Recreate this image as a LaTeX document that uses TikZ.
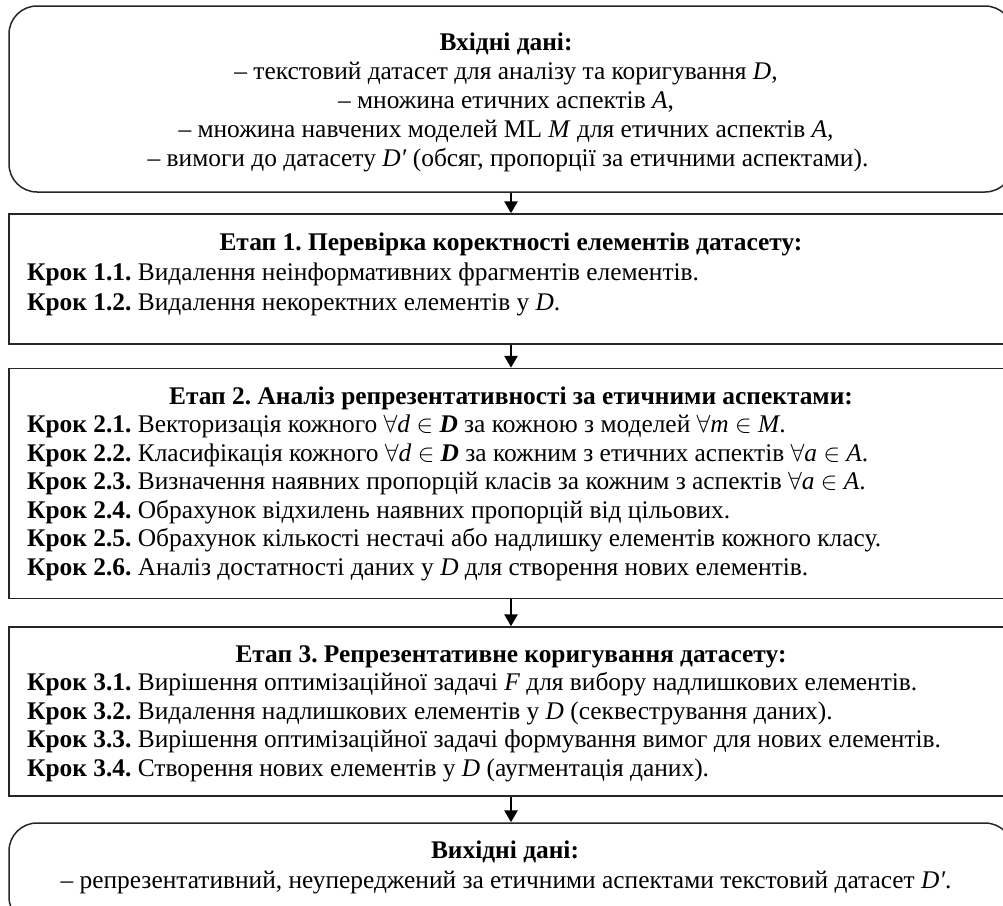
\documentclass[tikz,border=0pt]{standalone}
\usepackage{fontspec}
\setmainfont{Liberation Serif}
\usetikzlibrary{arrows.meta}
\frenchspacing
\tikzset{
  frame/.style={draw=black!85, line width=1.5pt, minimum width=1004pt, inner sep=0pt},
  roundframe/.style={frame, rounded corners=28pt},
  arr/.style={line width=2.8pt, -{Triangle[width=13pt,length=12pt]}},
  ctext/.style={anchor=base, inner sep=0pt, font=\fontsize{25.4}{29}\selectfont},
  ltext/.style={anchor=base west, inner sep=0pt, font=\fontsize{25.4}{29}\selectfont},
}
\newcommand{\kr}[1]{\textbf{Крок #1.}}
\begin{document}
\begin{tikzpicture}[x=1pt,y=-1pt]
\useasboundingbox (0,0) rectangle (1003,905);
\fill[white] (0,0) rectangle (1003,905);
\clip (0,0) rectangle (1003,905);
% boxes
\node[roundframe, minimum height=186pt] (b1) at (511,99) {};
\node[frame, minimum height=130pt] (b2) at (511,279) {};
\node[frame, minimum height=230pt] (b3) at (511,483.5) {};
\node[frame, minimum height=169pt] (b4) at (511,711.5) {};
\node[roundframe, minimum height=102pt] (b5) at (511,874) {};
% arrows
\draw[arr] (b1.south) -- (b2.north);
\draw[arr] (b2.south) -- (b3.north);
\draw[arr] (b3.south) -- (b4.north);
\draw[arr] (b4.south) -- (b5.north);
% box 1
\node[ctext] (t10) at (506,50) {\textbf{Вхідні дані:}};
\node[ctext] (t11) at (506,79) {– текстовий датасет для аналізу та коригування \textit{D},};
\node[ctext] (t12) at (506,108) {– множина етичних аспектів \textit{A},};
\node[ctext] (t13) at (506,137) {– множина навчених моделей ML \textit{M} для етичних аспектів \textit{A,}};
\node[ctext] (t14) at (508,166) {– вимоги до датасету \textit{D′} (обсяг, пропорції за етичними аспектами).};
% box 2
\node[ctext] (t20) at (511,250) {\textbf{Етап 1. Перевірка коректності елементів датасету:}};
\node[ltext] (t21) at (27,280) {\kr{1.1} Видалення неінформативних фрагментів елементів.};
\node[ltext] (t22) at (27,310) {\kr{1.2} Видалення некоректних елементів у \textit{D}.};
% box 3
\node[ctext] (t30) at (511,404) {\textbf{Етап 2. Аналіз репрезентативності за етичними аспектами:}};
\node[ltext] (t31) at (27,432) {\kr{2.1} Векторизація кожного $\forall$\textit{d} $\in$ \textbf{\textit{D}} за кожною з моделей $\forall$\textit{m} $\in$ \textit{M}.};
\node[ltext] (t32) at (27,461) {\kr{2.2} Класифікація кожного $\forall$\textit{d} $\in$ \textbf{\textit{D}} за кожним з етичних аспектів $\forall$\textit{a} $\in$ \textit{A}.};
\node[ltext] (t33) at (27,489) {\kr{2.3} Визначення наявних пропорцій класів за кожним з аспектів $\forall$\textit{a} $\in$ \textit{A}.};
\node[ltext] (t34) at (27,518) {\kr{2.4} Обрахунок відхилень наявних пропорцій від цільових.};
\node[ltext] (t35) at (27,546) {\kr{2.5} Обрахунок кількості нестачі або надлишку елементів кожного класу.};
\node[ltext] (t36) at (27,575) {\kr{2.6} Аналіз достатності даних у \textit{D} для створення нових елементів.};
% box 4
\node[ctext] (t40) at (511,662) {\textbf{Етап 3. Репрезентативне коригування датасету:}};
\node[ltext] (t41) at (27,690) {\kr{3.1} Вирішення оптимізаційної задачі \textit{F} для вибору надлишкових елементів.};
\node[ltext] (t42) at (27,719) {\kr{3.2} Видалення надлишкових елементів у \textit{D} (секвестрування даних).};
\node[ltext] (t43) at (27,747) {\kr{3.3} Вирішення оптимізаційної задачі формування вимог для нових елементів.};
\node[ltext] (t44) at (27,776) {\kr{3.4} Створення нових елементів у \textit{D} (аугментація даних).};
% box 5
\node[ctext] (t50) at (505,858) {\textbf{Вихідні дані:}};
\node[ctext] (t51) at (506,888) {– репрезентативний, неупереджений за етичними аспектами текстовий датасет \textit{D′}.};
\end{tikzpicture}
\end{document}
